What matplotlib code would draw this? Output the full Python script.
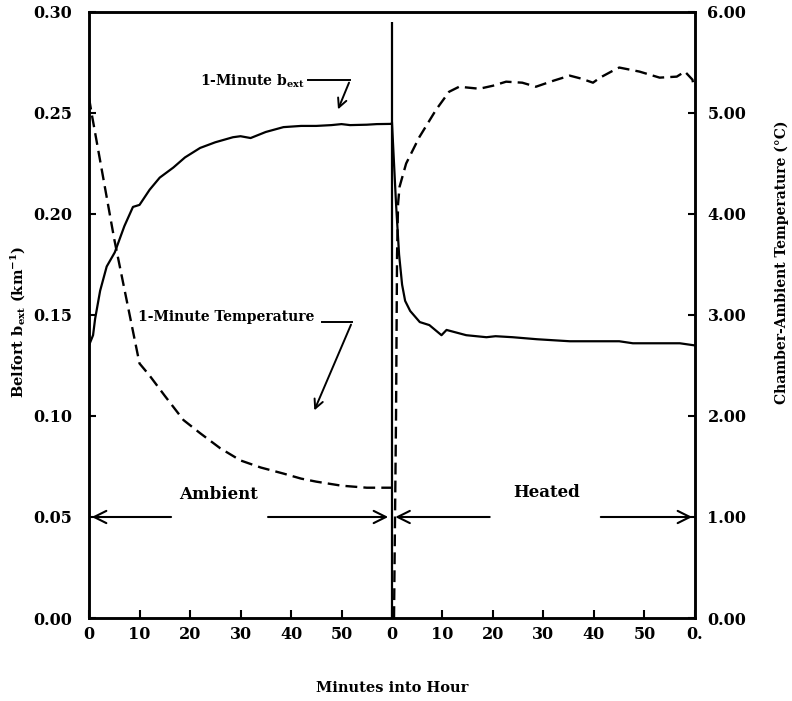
import matplotlib
matplotlib.use("Agg")
import matplotlib.pyplot as plt
import numpy as np

# minutes 0-60 = ambient hour, 60-120 = heated hour
amb_b_min = [0, 0.8, 1.2, 2.2, 3.5, 5.1, 7, 8.7, 10, 12, 14, 16.7, 19, 22, 25, 28.5, 30,
             32, 35, 38.5, 42, 45, 48, 50, 51.7, 55, 57, 59.8]
amb_b = [0.135, 0.140, 0.148, 0.162, 0.174, 0.181, 0.194, 0.2035, 0.2045, 0.212, 0.218,
         0.223, 0.228, 0.2327, 0.2355, 0.238, 0.2385, 0.2376, 0.2406, 0.243, 0.2436,
         0.2436, 0.2440, 0.2445, 0.2440, 0.2442, 0.2445, 0.2446]

amb_t_min = [0, 0.5, 5, 10, 12, 15, 18.7, 22, 26, 30, 34, 38.5, 42, 45, 50, 55, 59.8]
amb_t = [5.15, 5.0, 3.75, 2.52, 2.40, 2.20, 1.96, 1.83, 1.68, 1.56, 1.49, 1.43, 1.38,
         1.35, 1.31, 1.29, 1.29]

heat_b_min = [60.0, 60.8, 61.4, 62.0, 62.6, 63.6, 65.5, 67.4, 69.8, 70.8, 74.7, 78.7,
              80.5, 83.9, 88.7, 95.2, 105, 107.7, 117, 119.8]
heat_b = [0.245, 0.205, 0.180, 0.165, 0.157, 0.152, 0.1465, 0.145, 0.140, 0.1426, 0.140,
          0.139, 0.1395, 0.139, 0.138, 0.137, 0.137, 0.136, 0.136, 0.135]

heat_t_min = [60.4, 60.8, 61.0, 61.2, 61.5, 62.8, 65.4, 68.7, 71.3, 73.3, 77.3, 80, 82.6,
              85.8, 88.5, 92, 95.2, 97.5, 99.8, 101.2, 103.8, 105, 109, 113, 116.4, 118,
              119.5, 119.8]
heat_t = [0.0, 2.0, 3.6, 4.1, 4.27, 4.5, 4.76, 5.03, 5.21, 5.26, 5.24, 5.27, 5.31, 5.30,
          5.26, 5.32, 5.37, 5.34, 5.30, 5.35, 5.42, 5.45, 5.41, 5.35, 5.36, 5.41, 5.33, 5.25]

switch_minute = 60
switch_spike = 0.295

x_ticks = list(range(0, 121, 10))
x_tick_labels = ["0", "10", "20", "30", "40", "50", "0", "10", "20", "30", "40", "50", "0."]
b_ticks = [0.0, 0.05, 0.10, 0.15, 0.20, 0.25, 0.30]
t_ticks = [0, 1, 2, 3, 4, 5, 6]

plt.rcParams["font.family"] = ["DejaVu Serif"]
plt.rcParams["font.weight"] = "bold"
plt.rcParams["axes.labelweight"] = "bold"
plt.rcParams["mathtext.fontset"] = "dejavuserif"

fig = plt.figure(figsize=(7.92, 7.01), dpi=100)
ax = fig.add_axes([0.1124, 0.1184, 0.7651, 0.8645])
ax2 = ax.twinx()

solid = dict(color="black", lw=1.6)
dashed = dict(color="black", lw=1.7, ls=(0, (5, 2.6)))

ax.plot(amb_b_min, amb_b, **solid)
ax.plot(heat_b_min, heat_b, **solid)
ax.vlines(switch_minute, 0, switch_spike, color="black", lw=1.6)
ax2.plot(amb_t_min, amb_t, **dashed)
ax2.plot(heat_t_min, heat_t, **dashed)

ax.set_xlim(0, 120)
ax.set_ylim(0, 0.30)
ax2.set_ylim(0, 6)

ax.set_xticks(x_ticks)
ax.set_xticklabels(x_tick_labels)
ax.set_yticks(b_ticks)
ax.set_yticklabels([f"{v:.2f}" for v in b_ticks])
ax2.set_yticks(t_ticks)
ax2.set_yticklabels([f"{v:.2f}" for v in t_ticks])

ax.tick_params(axis="x", direction="in", length=6, width=1.5, pad=6, labelsize=11.5)
ax.tick_params(axis="y", direction="in", length=5, width=1.5, pad=12, labelsize=11.5)
ax2.tick_params(axis="y", direction="in", length=5, width=1.5, pad=9, labelsize=11.5)
for a in (ax, ax2):
    for s in a.spines.values():
        s.set_linewidth(1.8)

ax.set_ylabel(r"Belfort b$_{\mathbf{ext}}$ (km$^{\mathbf{-1}}$)", fontsize=10.5)
ax.yaxis.set_label_coords(-0.101, 0.488)
ax2.set_ylabel("Chamber-Ambient Temperature (°C)", fontsize=10)
ax2.yaxis.set_label_coords(1.132, 0.587)
ax.set_xlabel("Minutes into Hour", fontsize=10.5)
ax.xaxis.set_label_coords(0.5, -0.104)

# curve labels with leader arrows
arrow = dict(arrowstyle="->", color="black", lw=1.4, mutation_scale=16)
ax.text(22, 0.2655, r"1-Minute b$_{\mathbf{ext}}$", fontsize=10, va="center", ha="left")
ax.plot([43.3, 51.7], [0.2663, 0.2663], color="black", lw=1.4)
ax.annotate("", xy=(49.1, 0.2505), xytext=(51.7, 0.2663), arrowprops=arrow)

ax.text(9.7, 0.149, "1-Minute Temperature", fontsize=10, va="center", ha="left")
ax.plot([46.1, 52.1], [0.1465, 0.1465], color="black", lw=1.4)
ax.annotate("", xy=(44.4, 0.1015), xytext=(52.1, 0.1465), arrowprops=arrow)

# period spans
span = dict(arrowstyle="->", color="black", lw=1.5, mutation_scale=22)
ax.annotate("", xy=(0, 0.05), xytext=(16.8, 0.05), arrowprops=span)
ax.annotate("", xy=(59.8, 0.05), xytext=(34.9, 0.05), arrowprops=span)
ax.text(25.7, 0.061, "Ambient", fontsize=12, ha="center", va="center")
ax.annotate("", xy=(60.1, 0.05), xytext=(79.9, 0.05), arrowprops=span)
ax.annotate("", xy=(120, 0.05), xytext=(100.8, 0.05), arrowprops=span)
ax.text(90.6, 0.062, "Heated", fontsize=12, ha="center", va="center")

fig.savefig("out.png", dpi=100)
